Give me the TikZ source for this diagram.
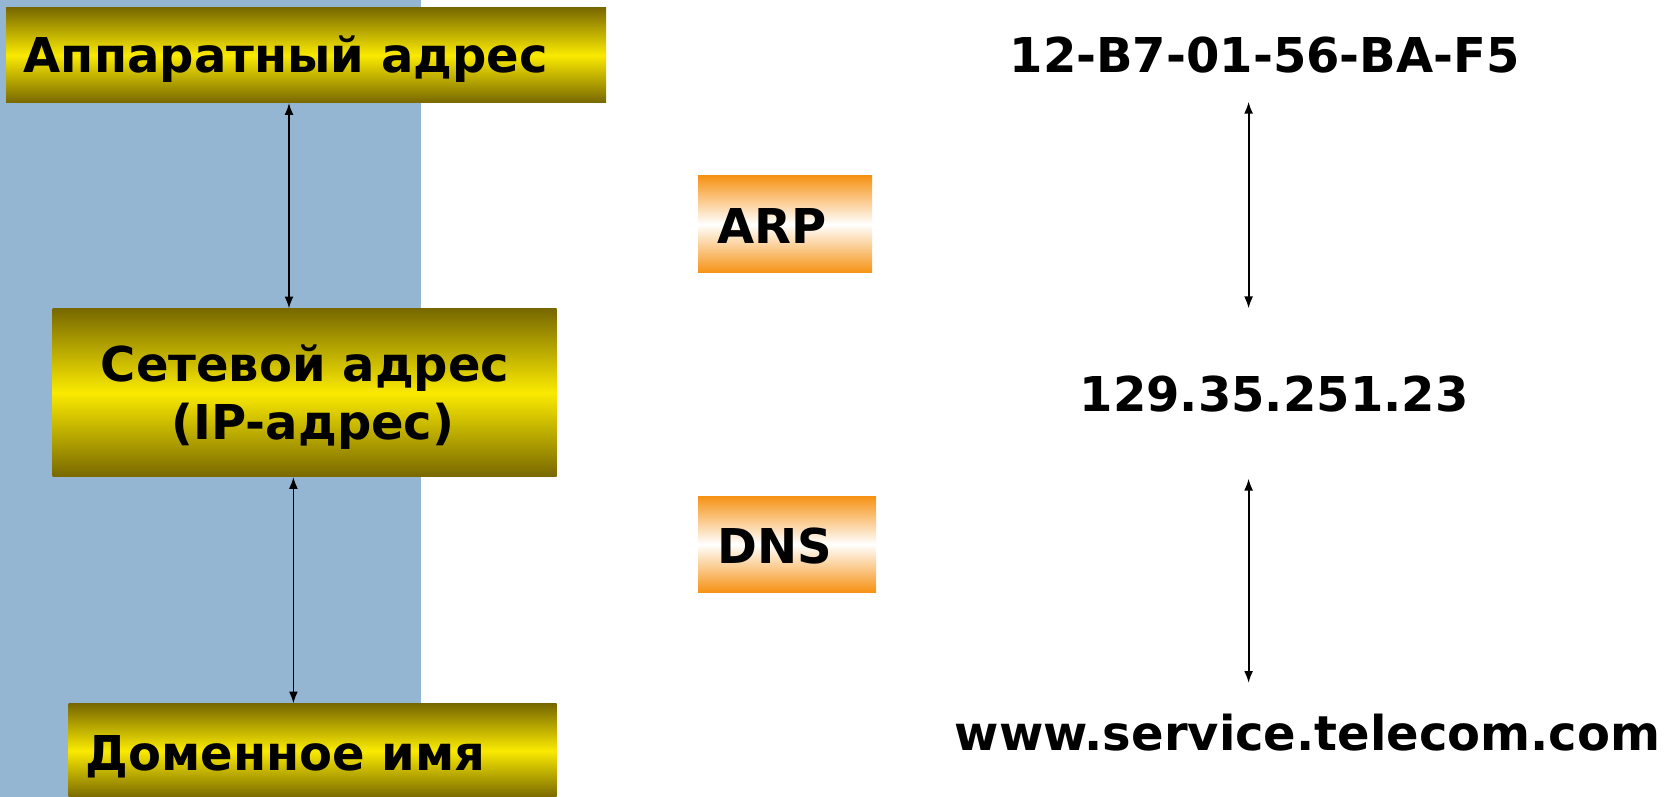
\documentclass[tikz,border=0pt]{standalone}
\usepackage{fontspec}
\setmainfont{DejaVu Sans}
\usetikzlibrary{arrows.meta}
\definecolor{bgblue}{RGB}{149,182,210}
\definecolor{olive}{RGB}{120,104,0}
\definecolor{yel}{RGB}{250,234,0}
\definecolor{orng}{RGB}{246,146,20}
\tikzset{
  ybox/.style={rectangle, inner sep=0pt, anchor=north west, top color=olive, bottom color=olive, middle color=yel},
  obox/.style={rectangle, inner sep=0pt, anchor=north west, top color=orng, bottom color=orng, middle color=white},
  lbl/.style={inner sep=0pt, font=\fontsize{48}{58}\selectfont\bfseries},
  arr/.style={line width=1.8pt, {Latex[length=12pt,width=9pt]}-{Latex[length=12pt,width=9pt]}}
}
\begin{document}
\begin{tikzpicture}[x=1pt,y=-1pt]
\useasboundingbox (0,0) rectangle (1679,797);
\fill[bgblue] (0,0) rectangle (421,797);
% boxes
\node[ybox, minimum width=600pt, minimum height=95pt] (hw) at (6,7.5) {};
\node[ybox, minimum width=504pt, minimum height=168pt] (ip) at (52.5,308.5) {};
\node[ybox, minimum width=488pt, minimum height=94pt] (dn) at (68.5,703.5) {};
\node[obox, minimum width=174pt, minimum height=97pt] (arp) at (698,175.5) {};
\node[obox, minimum width=178pt, minimum height=96pt] (dns) at (698,496) {};
% labels
\node[lbl, anchor=base west] (hwt) at (23.6,72.5) {Аппаратный адрес};
\node[lbl, anchor=base] (ipt1) at (305,381) {Сетевой адрес};
\node[lbl, anchor=base] (ipt2) at (313,439) {(IP-адрес)};
\node[lbl, anchor=base west] (dnt) at (85.7,770) {Доменное имя};
\node[lbl, anchor=base west] (arpt) at (717.4,243) {ARP};
\node[lbl, anchor=base west] (dnst) at (717.4,563) {DNS};
\node[lbl, anchor=base] (mac) at (1264.6,72.5) {12-B7-01-56-BA-F5};
\node[lbl, anchor=base] (ipn) at (1274,411) {129.35.251.23};
\node[lbl, anchor=base] (url) at (1307.5,750) {www.service.telecom.com};
% arrow end points
\coordinate (r1a) at (1248.6,101.7);
\coordinate (r1b) at (1248.6,308.4);
\coordinate (r2a) at (1248.6,478.6);
\coordinate (r2b) at (1248.6,683);
\draw[arr] (hw.south -| 289,0) -- (ip.north -| 289,0);
\draw[arr] (ip.south -| 293.4,0) -- (dn.north -| 293.4,0);
\draw[arr] (r1a) -- (r1b);
\draw[arr] (r2a) -- (r2b);
\end{tikzpicture}
\end{document}
